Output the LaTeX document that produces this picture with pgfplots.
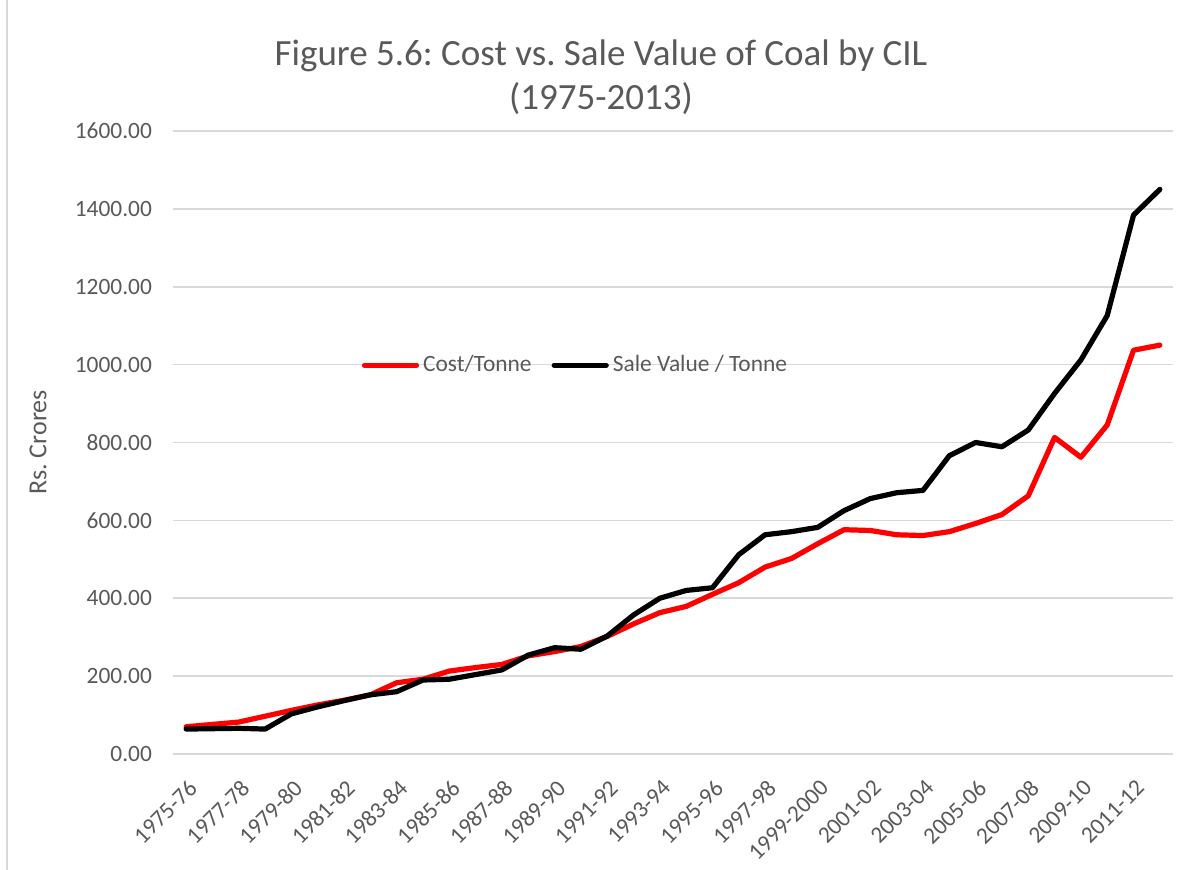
\documentclass[border=0pt]{standalone}
\usepackage{pgfplots}
\pgfplotsset{compat=1.18}
\usepackage{fontspec}
\setmainfont{Carlito}
\frenchspacing
\definecolor{txtgray}{HTML}{595959}
\definecolor{gridgray}{HTML}{D9D9D9}
\definecolor{costred}{HTML}{FF0000}

\begin{document}
\begin{tikzpicture}
% page frame in px*0.5pt, relative to the plot area's lower left corner
\useasboundingbox (-86.5pt,-58pt) rectangle (504.5pt,377pt);
\draw[gridgray, line width=1pt] (-83pt,-58pt) -- (-83pt,377pt);
\begin{axis}[
    scale only axis,
    width=500pt, height=311.5pt,
    xmin=-0.5, xmax=37.5,
    ymin=0, ymax=1600,
    ytick={0,200,...,1600},
    xtick={0,2,...,36},
    xticklabels={1975-76,1977-78,1979-80,1981-82,1983-84,1985-86,1987-88,1989-90,1991-92,1993-94,1995-96,1997-98,1999-2000,2001-02,2003-04,2005-06,2007-08,2009-10,2011-12},
    ymajorgrids=true,
    grid style={gridgray, line width=0.8pt},
    axis line style={draw=none},
    major tick length=0pt,
    tick label style={font=\fontsize{11.7}{14}\selectfont, text=txtgray},
    /pgf/number format/assume math mode=true,
    yticklabel style={xshift=-7pt, /pgf/number format/fixed, /pgf/number format/fixed zerofill, /pgf/number format/precision=2, /pgf/number format/1000 sep={}},
    x tick label style={xshift=3.5pt, yshift=-15pt, rotate=45, anchor=east, inner sep=0pt},
    ylabel={Rs. Crores},
    ylabel style={at={(axis description cs:-0.135,0.5)}, anchor=center, font=\fontsize{13}{15}\selectfont, text=txtgray},
    title={Figure 5.6: Cost vs. Sale Value of Coal by CIL\\(1975-2013)},
    title style={at={(axis description cs:0.428,1)}, anchor=south, yshift=-1.5pt, align=center, font=\fontsize{18.5}{22}\selectfont, text=txtgray},
    legend style={at={(axis description cs:0.4035,0.624)}, anchor=center, draw=none, fill=none, legend columns=2,
        font=\fontsize{11.7}{14}\selectfont, text=txtgray,
        /tikz/every even column/.append style={column sep=8pt}},
    legend image code/.code={\draw[#1, line cap=round] (0pt,0pt) -- (26pt,0pt);},
    every axis plot/.append style={line width=2.6pt, line join=round, line cap=round},
]
% Cost/Tonne
\addplot[costred] coordinates {
(0,70) (1,76) (2,82) (3,97) (4,112) (5,126) (6,138) (7,152) (8,183) (9,192)
(10,213) (11,222) (12,230) (13,252) (14,263) (15,276) (16,302) (17,334) (18,363) (19,379)
(20,410) (21,440) (22,480) (23,502) (24,540) (25,576) (26,574) (27,563) (28,561) (29,571)
(30,592) (31,615) (32,663) (33,813) (34,762) (35,845) (36,1037) (37,1050)};
% Sale Value / Tonne
\addplot[black] coordinates {
(0,64) (1,65) (2,66) (3,64) (4,103) (5,121) (6,137) (7,152) (8,160) (9,190)
(10,192) (11,204) (12,216) (13,254) (14,273) (15,269) (16,303) (17,357) (18,400) (19,420)
(20,427) (21,512) (22,563) (23,571) (24,582) (25,625) (26,656) (27,671) (28,677) (29,766)
(30,800) (31,789) (32,832) (33,926) (34,1012) (35,1126) (36,1384) (37,1450)};
\legend{Cost/Tonne, Sale Value / Tonne}
\end{axis}
\end{tikzpicture}
\end{document}
